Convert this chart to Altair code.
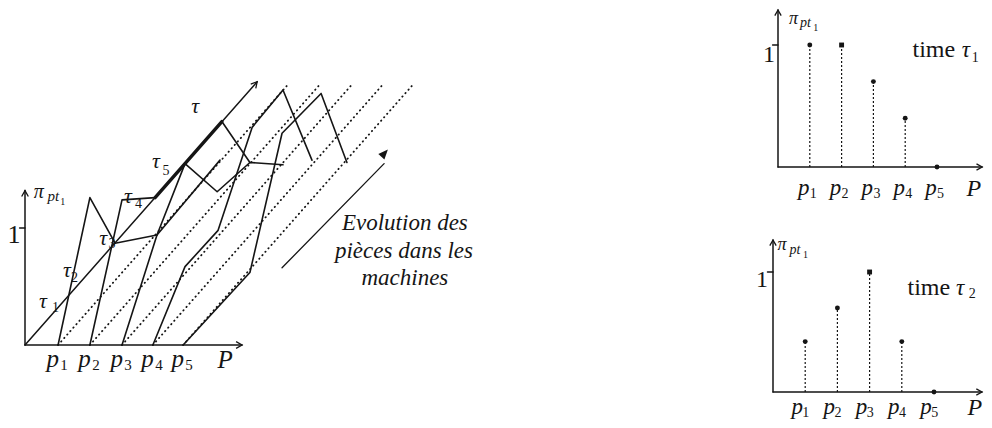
import altair as alt
import pandas as pd

INK = "#151515"
SERIF = "Liberation Serif"

# ---------------- left diagram (oblique view) ----------------
# units: one step between pieces horizontally, possibility pi vertically
P_POS = [1.05, 2.06, 3.08, 4.06, 5.02]          # p1..p5 on the P axis
TIME_LEN = 7.29                                 # length of each piece's time line
TIME_RISE = 0.305                               # rise of the time direction per unit

SOLID_PATHS = {
    "p1": [(1.05, 0.0), (2.06, 1.26), (2.86, 0.87)],
    "tau3": [(2.86, 0.87), (4.19, 0.94)],
    "p2": [(2.06, 0.0), (3.08, 1.24), (4.13, 1.26)],
    "p3": [(3.08, 0.0), (4.19, 0.94), (5.08, 1.55)],
    "tau5": [(5.08, 1.55), (6.10, 1.31), (7.14, 1.56), (8.19, 1.54)],
    "top": [(6.25, 1.91), (7.14, 1.56)],
    "p1time": [(4.19, 0.94), (6.19, 1.58)],
    "p4": [(4.06, 0.0), (5.08, 0.67), (6.13, 0.98), (7.21, 1.86), (8.19, 2.18), (9.11, 1.58)],
    "p5": [(5.02, 0.0), (7.14, 0.62), (8.16, 1.81), (9.40, 2.15), (10.22, 1.56)],
}
AXES_LEFT = {
    "P": [(0.0, 0.0), (6.89, 0.0)],
    "pi": [(0.0, 0.0), (0.0, 1.32)],
    "tau": [(0.0, 0.0), (7.37, 2.25)],
    "one": [(-0.17, 1.0), (0.0, 1.0)],
}
TAU_THICK = [(4.13, 1.26), (6.25, 1.91)]
EVOL_LINE = [(8.16, 0.66), (11.40, 1.55)]
EVOL_TIP = (11.52, 1.67)
LEFT_TIPS = [(6.89, 0.0, 90), (0.0, 1.32, 0), (7.37, 2.25, 41)]

# labels: text, u, v, size
LEFT_ITALIC = [
    ("π", 0.44, 1.256, 20), ("pt", 0.90, 1.23, 15),
    ("τ", 0.57, 0.316, 22), ("τ", 1.33, 0.58, 22), ("τ", 2.48, 0.855, 22),
    ("τ", 3.27, 1.21, 22), ("τ", 4.16, 1.51, 22), ("τ", 5.40, 1.98, 22),
    ("P", 6.35, -0.197, 25),
] + [("p", p - 0.17, -0.188, 25) for p in P_POS]
LEFT_ROMAN = [
    ("1", -0.35, 0.87, 26), ("1", 1.20, 1.20, 10),
    ("1", 0.97, 0.28, 14), ("2", 1.57, 0.54, 14), ("3", 2.76, 0.83, 14),
    ("4", 3.60, 1.17, 14), ("5", 4.48, 1.45, 14),
] + [(str(i + 1), p + 0.19, -0.214, 15) for i, p in enumerate(P_POS)]
EVOL_TEXT = [("Evolution des", 12.06, 0.983), ("pièces dans les", 12.03, 0.744), ("machines", 12.06, 0.513)]

# ---------------- right panels ----------------
PIECES = [1, 2, 3, 4, 5]
PI_TAU1 = [1.0, 1.0, 0.70, 0.40, 0.0]
PI_TAU2 = [0.42, 0.70, 1.0, 0.42, 0.0]
SQUARE_TAU1 = 2
SQUARE_TAU2 = 3

XL = alt.Scale(domain=[0, 1], range=[17, 48.5], zero=False, nice=False)
YL = alt.Scale(domain=[0, 1], range=[337, 220], zero=False, nice=False)
XT = alt.Scale(domain=[0, 5], range=[770, 929], zero=False, nice=False)
YT = alt.Scale(domain=[0, 1], range=[159, 37], zero=False, nice=False)
XB = alt.Scale(domain=[0, 5], range=[765, 926], zero=False, nice=False)
YB = alt.Scale(domain=[0, 1], range=[384, 264], zero=False, nice=False)

CARET = "M-0.45,0.8L0,0L0.45,0.8"
HEAD = "M0,0L-0.42,1L0.42,1Z"


def seg_df(paths):
    rows = []
    for name, pts in paths.items():
        for k, (u, v) in enumerate(pts):
            rows.append({"seg": name, "ord": k, "u": u, "v": v})
    return pd.DataFrame(rows)


def enc(xs, ys):
    return dict(x=alt.X("u:Q", scale=xs, axis=None), y=alt.Y("v:Q", scale=ys, axis=None))


def lines(paths, xs, ys, width, dash=None):
    kw = dict(color=INK, strokeWidth=width, strokeCap="round", strokeJoin="round")
    if dash:
        kw["strokeDash"] = dash
    return alt.Chart(seg_df(paths)).mark_line(**kw).encode(
        detail="seg:N", order="ord:Q", **enc(xs, ys))


def texts(rows, xs, ys, style, align="center", size=None):
    if size is not None:
        rows = [(t, u, v, size) for t, u, v in rows]
    df = pd.DataFrame(rows, columns=["t", "u", "v", "s"])
    return alt.Chart(df).mark_text(font=SERIF, fontStyle=style, color=INK, align=align,
                                   baseline="alphabetic").encode(
        text="t:N", size=alt.Size("s:Q", scale=None, legend=None), **enc(xs, ys))


def tips(rows, xs, ys, shape, filled, size):
    layers = []
    for u, v, ang in rows:
        df = pd.DataFrame([{"u": u, "v": v}])
        layers.append(alt.Chart(df).mark_point(shape=shape, filled=filled, size=size, angle=ang,
                                               color=INK, strokeWidth=1.3, opacity=1).encode(**enc(xs, ys)))
    return layers


layers = []
# dotted time lines of each piece
dotted = {f"t{i}": [(p, 0.0), (p + TIME_LEN, TIME_RISE * TIME_LEN)] for i, p in enumerate(P_POS)}
layers.append(lines(dotted, XL, YL, 1.8, dash=[0.4, 4.2]))
layers.append(lines(SOLID_PATHS, XL, YL, 1.6))
layers.append(lines(AXES_LEFT, XL, YL, 1.5))
layers.append(lines({"thick": TAU_THICK}, XL, YL, 3.4))
layers.append(lines({"evol": EVOL_LINE}, XL, YL, 1.3))
layers += tips(LEFT_TIPS, XL, YL, CARET, False, 220)
layers += tips([(EVOL_TIP[0], EVOL_TIP[1], 42)], XL, YL, HEAD, True, 380)
layers.append(texts(LEFT_ITALIC, XL, YL, "italic"))
layers.append(texts(LEFT_ROMAN, XL, YL, "normal"))
layers.append(texts(EVOL_TEXT, XL, YL, "italic", size=23))


def panel(values, square, xs, ys, axis_x_end, axis_y_end, lab):
    out = []
    out.append(lines({"x": [(0, 0), (axis_x_end, 0)], "y": [(0, 0), (0, axis_y_end)],
                      "one": [(-0.17, 1.0), (0, 1.0)]}, xs, ys, 1.5))
    out += tips([(axis_x_end, 0, 90), (0, axis_y_end, 0)], xs, ys, CARET, False, 200)
    df = pd.DataFrame({"u": PIECES, "v": values, "z": [0.0] * 5,
                       "shape": ["square" if p == square else "circle" for p in PIECES]})
    out.append(alt.Chart(df).mark_rule(color=INK, strokeWidth=1.2, strokeDash=[2, 2]).encode(
        x=alt.X("u:Q", scale=xs, axis=None), y=alt.Y("z:Q", scale=ys, axis=None),
        y2="v:Q"))
    out.append(alt.Chart(df).mark_point(filled=True, color=INK, size=24, opacity=1).encode(
        shape=alt.Shape("shape:N", scale=None, legend=None), **enc(xs, ys)))
    it = [("π", lab["pi"][0], lab["pi"][1], 18), ("pt", lab["pt"][0], lab["pt"][1], 14),
          ("τ", lab["tau"][0], lab["tau"][1], 23), ("P", lab["P"][0], lab["P"][1], 24)]
    it += [("p", p + lab["pdx"], lab["pv"], 23) for p in PIECES]
    ro = [("1", lab["one"][0], lab["one"][1], 24), ("time", lab["time"][0], lab["time"][1], 24),
          (lab["k"], lab["sub"][0], lab["sub"][1], 14), ("1", lab["pt"][0] + 0.33, lab["pt"][1] - 0.03, 10)]
    ro += [(str(p), p + lab["sdx"], lab["sv"], 14) for p in PIECES]
    out.append(texts(it, xs, ys, "italic"))
    out.append(texts(ro, xs, ys, "normal"))
    return out


layers += panel(PI_TAU1, SQUARE_TAU1, XT, YT, 6.42, 1.287,
                {"pi": (0.49, 1.172), "pt": (0.86, 1.148), "tau": (5.91, 0.90), "P": (6.16, -0.238),
                 "one": (-0.28, 0.86), "time": (4.90, 0.90), "k": "1", "sub": (6.20, 0.86),
                 "pdx": -0.19, "pv": -0.23, "sdx": 0.11, "sv": -0.254})
layers += panel(PI_TAU2, SQUARE_TAU2, XB, YB, 6.49, 1.267,
                {"pi": (0.28, 1.18), "pt": (0.68, 1.15), "tau": (5.81, 0.81), "P": (6.27, -0.19),
                 "one": (-0.34, 0.875), "time": (4.84, 0.81), "k": "2", "sub": (6.19, 0.78),
                 "pdx": -0.25, "pv": -0.183, "sdx": 0.02, "sv": -0.208})

chart = alt.layer(*layers).resolve_scale(x="independent", y="independent").properties(
    width=976, height=412, autosize="none", padding=0, background="white"
).configure_view(stroke=None)

chart.save("out.html", embed_options={"renderer": "svg", "actions": False})
